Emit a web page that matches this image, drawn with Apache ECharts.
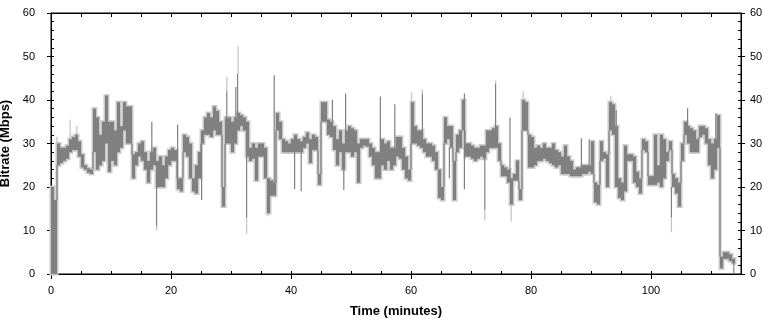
<!DOCTYPE html>
<html>
<head>
<meta charset="utf-8">
<script src="https://cdn.jsdelivr.net/npm/echarts@6/dist/echarts.min.js"></script>
<style>
html,body{margin:0;padding:0;background:#fff;}
#chart{width:772px;height:322px;}
</style>
</head>
<body>
<div id="chart"></div>
<script>
// Each column covers 0.5 minute; columns start at t = 0, 0.5, 1, ... 113.5
const sampleMinutes = 0.5;

// Lower edge of the bitrate trace in each 0.5-min column (Mbps)
const bitrateLo = [
  0, 0, 25, 25.5, 26, 26.5, 28, 28.5, 28.5, 27,          // 0 - 4.5
  24.5, 24, 23.3, 23, 28, 24, 25, 26, 30, 23.5,          // 5 - 9.5
  26, 25, 28, 29, 33, 30, 30, 22, 25, 27,                // 10 - 14.5
  26, 24, 21, 24, 25, 20, 20, 20, 22, 25,                // 15 - 19.5
  26, 26, 19.5, 19, 28, 27, 22, 19, 18.5, 22,            // 20 - 24.5
  30, 32, 32, 31.5, 33, 32, 32, 15.5, 30, 30,            // 25 - 29.5
  28, 30, 33, 34, 33, 27, 26, 26.5, 21.5, 27,            // 30 - 34.5
  27, 22, 14, 18, 18, 33, 31, 28, 28, 28,                // 35 - 39.5
  28, 28, 28, 28, 29, 30, 25.5, 28.5, 28.5, 20.5,        // 40 - 44.5
  35, 35, 32, 31.5, 28.5, 25, 28, 24, 28, 28,            // 45 - 49.5
  27, 28, 21, 29, 29.5, 29.3, 27, 25, 22, 22,            // 50 - 54.5
  25, 24, 26, 24, 25, 27, 26.5, 24, 22, 21.5,            // 55 - 59.5
  30, 30, 29.5, 29, 28, 27, 27, 26, 24, 17.5,            // 60 - 64.5
  17, 30, 31, 29, 17, 28, 29, 33, 27, 27,                // 65 - 69.5
  26.5, 26, 26.5, 27, 26.5, 28, 29, 29, 29, 26,          // 70 - 74.5
  22.5, 22.5, 21, 16, 21.5, 21.5, 17, 33, 33, 24.5,      // 75 - 79.5
  24.5, 25, 26, 26, 26.5, 26, 25.5, 25, 24.5, 25,        // 80 - 84.5
  23, 23, 23, 22.5, 22.5, 22.5, 22.5, 23, 23, 23.5,      // 85 - 89.5
  23, 16.5, 16, 26, 26.5, 20, 33, 32, 20, 17.5,          // 90 - 94.5
  17, 19, 26, 26, 21, 20, 18.5, 28.5, 28, 20.5,          // 95 - 99.5
  20.5, 20.5, 21, 20, 22, 26, 28.5, 20, 18.5, 15.5,      // 100 - 104.5
  26, 32, 30, 28, 28, 28, 31.5, 32, 30, 25,              // 105 - 109.5
  22, 24, 29, 1.3, 3.5, 3.5, 3, 2.5                      // 110 - 113.5
];

// Upper edge of the bitrate trace in each 0.5-min column (Mbps)
const bitrateHi = [
  20, 17, 30, 29, 29, 29.5, 31, 31.5, 32, 30.5,          // 0 - 4.5
  27.5, 25, 24.3, 24, 38, 36, 32, 35, 41, 35,            // 5 - 9.5
  35, 33, 39.5, 34, 39.5, 38.5, 38.5, 27.5, 28, 30,      // 10 - 14.5
  30.5, 28, 26, 28, 29, 26, 27, 25, 27, 28.5,            // 15 - 19.5
  29, 28.5, 22, 22, 32, 31.5, 30, 22, 25, 28,            // 20 - 24.5
  33, 36, 37, 36, 38.5, 37.5, 35, 20, 36, 36,            // 25 - 29.5
  35, 36, 37, 36.5, 36, 35, 29, 30, 29, 30,              // 30 - 34.5
  30, 29, 22, 21.5, 21, 37, 35, 31, 30.5, 30,            // 35 - 39.5
  31, 32, 31, 30.5, 31.5, 32.5, 31, 32, 31.5, 23,        // 40 - 44.5
  39.5, 39.5, 35.5, 35, 34, 31, 33, 30, 33, 34,          // 45 - 49.5
  33.5, 33, 30, 31, 31, 31, 30, 29, 28, 28,              // 50 - 54.5
  31, 30, 30.5, 29, 29, 31.5, 31.5, 29, 27, 24,          // 55 - 59.5
  39.5, 34, 33, 33, 31, 30, 30, 29.5, 28, 24,            // 60 - 64.5
  20, 36, 34, 34, 26, 32, 33, 40, 30, 30,                // 65 - 69.5
  29.5, 29, 29, 29.5, 29.5, 33, 33, 33.5, 34, 30,        // 70 - 74.5
  25, 24.5, 24, 22, 23, 26, 19.5, 40, 39.5, 32,          // 75 - 79.5
  31.5, 29, 29.5, 29, 30, 29, 29, 30, 28.5, 28,          // 80 - 84.5
  27, 29.5, 27, 26, 24, 24.5, 24.5, 25, 25, 25,          // 85 - 89.5
  30.5, 21, 20.5, 30.5, 28, 27.5, 39.5, 39, 34, 22,      // 90 - 94.5
  21, 29.5, 27.5, 27.5, 27, 23.5, 22, 31, 30.5, 22.5,    // 95 - 99.5
  22.5, 32, 25, 32, 31, 28, 30.5, 23, 22, 21,            // 100 - 104.5
  30, 35, 34, 33.5, 33, 31, 34, 34, 33.5, 31,            // 105 - 109.5
  30, 31, 36.5, 4, 5, 5, 4.5, 3.5                        // 110 - 113.5
];

// Thin dark excursions: minute, from, to (Mbps)
const spikeMinute = [16.8, 17.6, 21.1, 25.1, 29.3, 30.8, 31.1, 32.6, 37.2, 40.6, 41.7, 46.9, 48.8, 49.1, 54.9, 57.3, 61.9, 66.4, 68.9, 72.3, 74.1, 76.5, 77.8, 88.4, 89.7, 94.2, 103.4, 106.1, 110.8, 113.8];
const spikeFrom   = [28, 20, 22, 30, 36, 36, 37, 27, 21, 28, 28, 35, 24, 33, 28, 29, 33, 29, 19.5, 26.5, 34, 22, 23, 24.5, 25, 34, 20, 34, 31, 3];
const spikeTo     = [35, 11, 34.3, 17, 42, 43, 46, 13, 45.7, 19.5, 19, 40, 19.3, 41.5, 40.8, 39, 41.5, 22, 41.5, 14.7, 43.8, 36, 26.2, 31.2, 31, 37.7, 13, 38.1, 37, 0];

// Light-grey peak excursions: minute, from, to (Mbps)
const peakMinute = [1, 3.2, 4.3, 17.6, 29.3, 31.2, 32.6, 36.2, 60.1, 61.9, 72.3, 74.1, 76.7, 78.7, 93.3, 103.4];
const peakFrom   = [29, 31, 32, 11, 42, 46, 13, 14, 39.5, 41.5, 14.7, 43.8, 16, 40, 39.5, 13];
const peakTo     = [31.5, 35.5, 34, 10, 45.3, 52.5, 9.2, 13.3, 41.8, 42.5, 12.3, 44.5, 12, 42, 41, 9.6];

// Axis ticks
const xTickLabels = [0, 20, 40, 60, 80, 100];
const xMax = 115;
const yMax = 60;

const columns = bitrateLo.map((lo, i) => [i * sampleMinutes, lo, bitrateHi[i]]);
const spikes = spikeMinute.map((t, i) => [t, spikeFrom[i], spikeTo[i]]);
const peaks = peakMinute.map((t, i) => [t, peakFrom[i], peakTo[i]]);

const FONT = "'Liberation Sans', Arial, sans-serif";
const black = '#000';
const DARK = '#808080';
const LIGHT = '#c8c8c8';

function columnRenderer(color, halo) {
  return function (params, api) {
    const i = params.dataIndex;
    const t = api.value(0), lo = api.value(1), hi = api.value(2);
    const a = api.coord([t, hi]);
    const b = api.coord([t + sampleMinutes, lo]);
    let h = b[1] - a[1];
    let y = a[1];
    if (h < 1) { y -= (1 - h) / 2; h = 1; }
    const children = [{
      type: 'rect',
      shape: {x: a[0], y: y, width: b[0] - a[0], height: h},
      style: halo ? {fill: color, stroke: color, lineWidth: 3} : {fill: color}
    }];
    if (i > 0) {
      const pLo = bitrateLo[i - 1], pHi = bitrateHi[i - 1];
      let from = null, to = null;
      if (pHi < lo) { from = pHi; to = lo; }
      else if (pLo > hi) { from = hi; to = pLo; }
      if (from !== null) {
        const c1 = api.coord([t, from]);
        const c2 = api.coord([t, to]);
        children.push({type: 'line', shape: {x1: c1[0], y1: c1[1], x2: c2[0], y2: c2[1]},
          style: {stroke: color, lineWidth: halo ? 3 : 1.2}});
      }
    }
    return {type: 'group', children: children};
  };
}

function segmentRenderer(color, width) {
  return function (params, api) {
    const a = api.coord([api.value(0), api.value(1)]);
    const b = api.coord([api.value(0), api.value(2)]);
    return {type: 'line', shape: {x1: a[0], y1: a[1], x2: b[0], y2: b[1]},
            style: {stroke: color, lineWidth: width}};
  };
}

const chart = echarts.init(document.getElementById('chart'), null, {renderer: 'canvas'});
chart.setOption({
  animation: false,
  backgroundColor: '#fff',
  grid: {left: 51, right: 31, top: 13, bottom: 48, containLabel: false, outerBoundsMode: 'none',
         show: true, borderColor: black, borderWidth: 1, backgroundColor: 'transparent'},
  xAxis: [
    {
      type: 'value', position: 'bottom', min: 0, max: xMax,
      axisLine: {show: true, onZero: false, lineStyle: {color: black, width: 1}},
      axisTick: {show: true, inside: false, length: 5, customValues: xTickLabels, lineStyle: {color: black}},
      axisLabel: {show: true, customValues: xTickLabels, color: black, fontSize: 11, fontFamily: FONT, margin: 11},
      splitLine: {show: false},
      name: 'Time (minutes)', nameLocation: 'middle', nameGap: 31,
      nameTextStyle: {color: black, fontWeight: 'bold', fontSize: 13, fontFamily: FONT}
    },
    {
      type: 'value', position: 'top', min: 0, max: xMax, interval: 5,
      axisLine: {show: true, onZero: false, lineStyle: {color: black}},
      axisTick: {show: true, inside: true, length: 4, lineStyle: {color: black}},
      axisLabel: {show: false}, splitLine: {show: false}
    },
    {
      type: 'value', position: 'bottom', min: 0, max: xMax, interval: 5,
      axisLine: {show: false, onZero: false},
      axisTick: {show: true, inside: true, length: 3, lineStyle: {color: black}},
      axisLabel: {show: false}, splitLine: {show: false}
    }
  ],
  yAxis: [
    {
      type: 'value', position: 'left', min: 0, max: yMax, interval: 10,
      axisLine: {show: true, onZero: false, lineStyle: {color: black}},
      axisTick: {show: true, inside: false, length: 4, lineStyle: {color: black}},
      axisLabel: {color: black, fontSize: 11, fontFamily: FONT, margin: 16},
      splitLine: {show: false},
      name: 'Bitrate (Mbps)', nameLocation: 'middle', nameGap: 34,
      nameTextStyle: {color: black, fontWeight: 'bold', fontSize: 13, fontFamily: FONT}
    },
    {
      type: 'value', position: 'left', min: 0, max: yMax, interval: 2,
      axisLine: {show: false, onZero: false},
      axisTick: {show: true, inside: true, length: 3, lineStyle: {color: black}},
      axisLabel: {show: false}, splitLine: {show: false}
    },
    {
      type: 'value', position: 'right', min: 0, max: yMax, interval: 10,
      axisLine: {show: true, onZero: false, lineStyle: {color: black}},
      axisTick: {show: true, inside: false, length: 4, lineStyle: {color: black}},
      axisLabel: {color: black, fontSize: 11, fontFamily: FONT, margin: 9},
      splitLine: {show: false}
    },
    {
      type: 'value', position: 'right', min: 0, max: yMax, interval: 2,
      axisLine: {show: false, onZero: false},
      axisTick: {show: true, inside: true, length: 3, lineStyle: {color: black}},
      axisLabel: {show: false}, splitLine: {show: false}
    }
  ],
  series: [
    {
      name: 'halo', type: 'custom', xAxisIndex: 0, yAxisIndex: 0, z: 1, silent: true,
      data: columns, encode: {x: 0, y: [1, 2]},
      renderItem: columnRenderer(LIGHT, true)
    },
    {
      name: 'peaks', type: 'custom', xAxisIndex: 0, yAxisIndex: 0, z: 2, silent: true,
      data: peaks, encode: {x: 0, y: [1, 2]},
      renderItem: segmentRenderer(LIGHT, 1.3)
    },
    {
      name: 'Bitrate', type: 'custom', xAxisIndex: 0, yAxisIndex: 0, z: 3, silent: true,
      data: columns, encode: {x: 0, y: [1, 2]},
      renderItem: columnRenderer(DARK, false)
    },
    {
      name: 'spikes', type: 'custom', xAxisIndex: 0, yAxisIndex: 0, z: 4, silent: true,
      data: spikes, encode: {x: 0, y: [1, 2]},
      renderItem: segmentRenderer(DARK, 1.2)
    }
  ]
});
</script>
</body>
</html>
